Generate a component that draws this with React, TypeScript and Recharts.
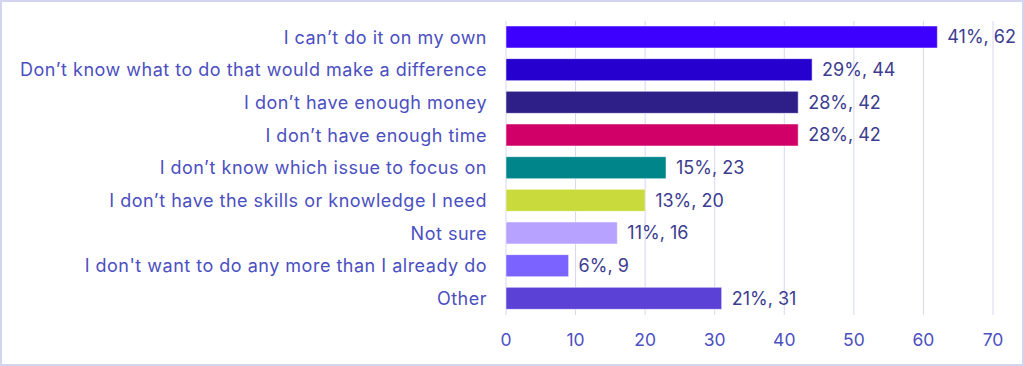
import { BarChart, Bar, Cell, XAxis, YAxis, CartesianGrid, LabelList } from 'recharts';

const categories = [
  'I can’t do it on my own',
  'Don’t know what to do that would make a difference',
  'I don’t have enough money',
  'I don’t have enough time',
  'I don’t know which issue to focus on',
  'I don’t have the skills or knowledge I need',
  'Not sure',
  "I don't want to do any more than I already do",
  'Other',
];
const counts = [62, 44, 42, 42, 23, 20, 16, 9, 31];
const percents = [41, 29, 28, 28, 15, 13, 11, 6, 21];
const barColors = ['#3d00ff', '#2500cf', '#2e1f88', '#d10068', '#00868a', '#c8da3c', '#b7a2ff', '#7b63ff', '#5b41d6'];
const xTicks = [0, 10, 20, 30, 40, 50, 60, 70];

const data = categories.map((name, i) => ({ name, count: counts[i], label: `${percents[i]}%, ${counts[i]}` }));

const FONT = 'Inter, "Open Sans", sans-serif';

export default function App() {
  return (
    <div style={styles.frame}>
      <BarChart
        width={1020}
        height={362}
        data={data}
        layout="vertical"
        margin={{ top: 19, right: 29, left: 0, bottom: 0 }}
      >
        <CartesianGrid stroke="#d6d6f3" horizontal={false} />
        <XAxis
          type="number"
          domain={[0, 70]}
          ticks={xTicks}
          axisLine={false}
          tickLine={false}
          tickSize={0}
          tickMargin={19}
          height={49}
          tick={{ fill: '#4b4fc0', fontSize: 17.5, fontFamily: FONT }}
        />
        <YAxis
          type="category"
          dataKey="name"
          width={504}
          axisLine={false}
          tickLine={false}
          tickSize={0}
          tickMargin={19}
          interval={0}
          tick={{ fill: '#4b4fc0', fontSize: 18, fontFamily: FONT, letterSpacing: 0.5 }}
        />
        <Bar dataKey="count" barSize={22} isAnimationActive={false} stroke="#ffffff" strokeOpacity={0.5}>
          {data.map((d, i) => (
            <Cell key={d.name} fill={barColors[i]} />
          ))}
          <LabelList dataKey="label" position="right" offset={10} fill="#3d3c8f" fontSize={18} fontFamily={FONT} />
        </Bar>
      </BarChart>
    </div>
  );
}

const styles: Record<string, React.CSSProperties> = {
  frame: {
    position: 'absolute', left: 0, top: 0, width: 1020, height: 362,
    border: '2px solid #d3d4f0', background: '#ffffff',
  },
};
